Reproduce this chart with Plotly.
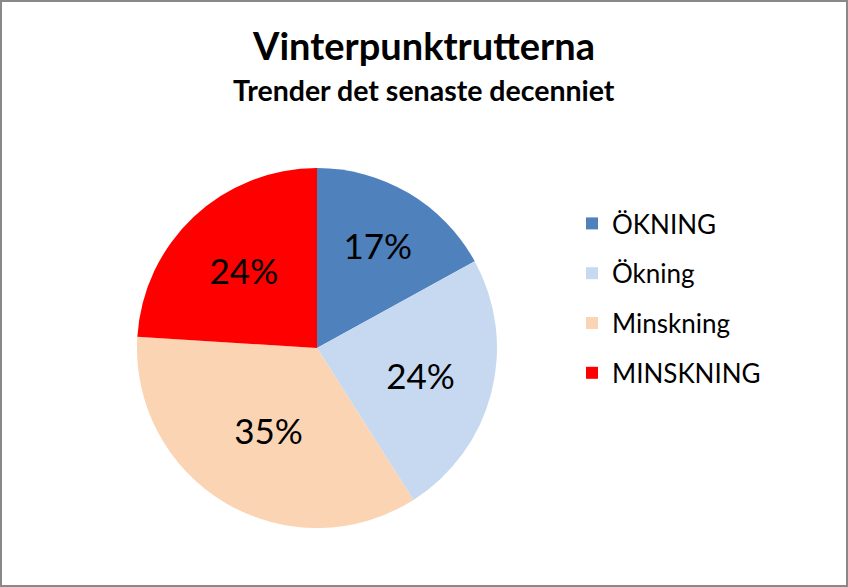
import plotly.graph_objects as go

labels = ["ÖKNING", "Ökning", "Minskning", "MINSKNING"]
values = [17, 24, 35, 24]
colors = ["#4F81BD", "#C6D9F1", "#FBD4B4", "#FF0000"]

W, H = 848, 587
FONT = "Lato, Open Sans, sans-serif"

fig = go.Figure()
fig.add_trace(go.Pie(
    labels=labels, values=values, sort=False, direction="clockwise", rotation=0,
    marker=dict(colors=colors, line=dict(width=0)),
    textinfo="percent", texttemplate="%{percent:.0%}", textposition="inside",
    insidetextorientation="horizontal",
    textfont=dict(family=FONT, size=35, color="black"),
    domain=dict(x=[137 / W, 497 / W], y=[(H - 528) / H, (H - 168) / H]),
    showlegend=False, hoverinfo="label+percent",
))
for i, (lab, col) in enumerate(zip(labels, colors)):
    fig.add_trace(go.Scatter(
        x=[None], y=[None], mode="markers", name=lab,
        marker=dict(symbol="square", size=12, color=col),
        legendgroup=f"g{i}", showlegend=True,
    ))

fig.update_layout(
    width=W, height=H, paper_bgcolor="white", plot_bgcolor="white",
    margin=dict(l=0, r=0, t=0, b=0),
    xaxis=dict(visible=False), yaxis=dict(visible=False),
    title=dict(text="<b>Vinterpunktrutterna</b>", x=0.5, xanchor="center",
               y=1 - 47 / H, yanchor="middle",
               font=dict(family=FONT, size=38, color="black")),
    annotations=[dict(text="<b>Trender det senaste decenniet</b>", x=0.5, y=1 - 90 / H,
                      xref="paper", yref="paper", xanchor="center", yanchor="middle",
                      showarrow=False, font=dict(family=FONT, size=28.5, color="black"))],
    legend=dict(x=572 / W, y=1 - 200 / H, xanchor="left", yanchor="top",
                font=dict(family=FONT, size=26, color="black"),
                tracegroupgap=13, bgcolor="rgba(0,0,0,0)"),
    shapes=[dict(type="rect", xref="paper", yref="paper", x0=0, y0=0, x1=1, y1=1,
                 line=dict(color="#898989", width=4))],
)

fig.write_html("out.html", config={"displayModeBar": False},
               post_script="document.body.style.margin='0';")
